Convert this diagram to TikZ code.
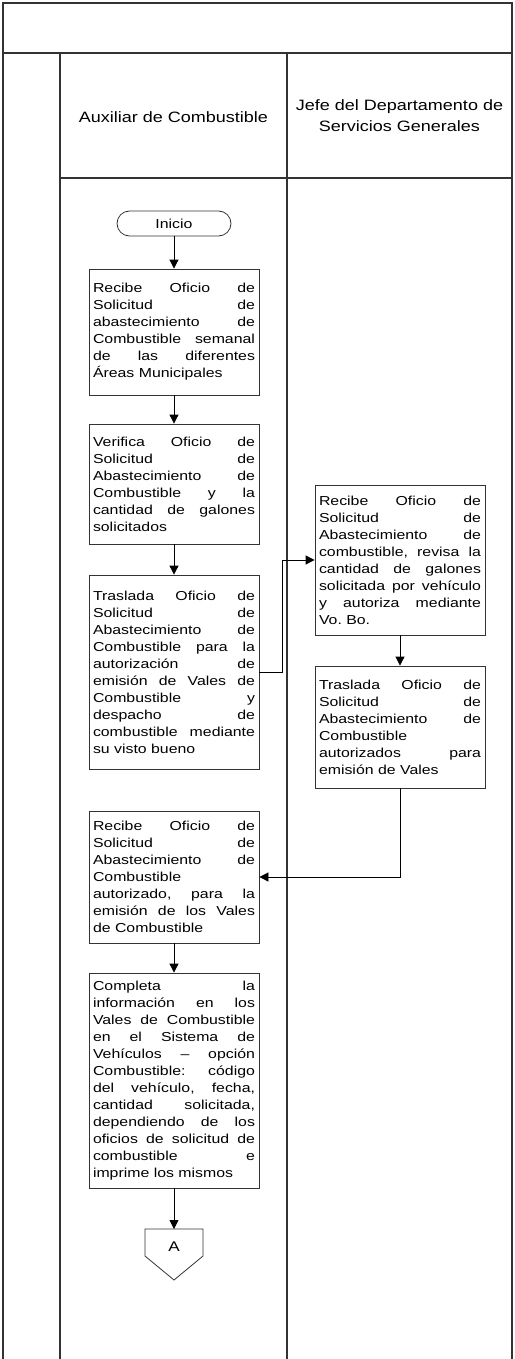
\documentclass[tikz,border=0pt]{standalone}
\usepackage{fontspec}
\setmainfont[FakeStretch=1.22]{Liberation Sans}
\newfontfamily\headfont[FakeStretch=1.2]{Liberation Sans}
\usetikzlibrary{arrows.meta}
\tolerance=10000
\hbadness=10000
\hyphenpenalty=10000
\frenchspacing
\begin{document}
\begin{tikzpicture}[x=1pt,y=-1pt,
  >={Triangle[length=9pt,width=9pt]},
  marco/.style={line width=1.6pt,draw=black!80},
  caja/.style={draw=black!80,line width=0.8pt,text width=162pt,inner sep=4pt,
    align=justify,font=\fontsize{13}{17}\selectfont},
  flecha/.style={->,line width=0.8pt}]
\useasboundingbox (0,0) rectangle (514,1359);
% marco y carriles
\draw[marco] (3,1359) -- (3,3) -- (512,3) -- (512,1359);
\draw[marco] (3,53) -- (512,53);
\draw[marco] (60,53) -- (60,1359);
\draw[marco] (287,53) -- (287,1359);
\draw[marco] (60,178) -- (512,178);
\node[font=\headfont\fontsize{15}{21}\selectfont] (aux) at (173.5,117) {Auxiliar de Combustible};
\node[font=\headfont\fontsize{15}{21}\selectfont,align=center] (jefe) at (399.5,116)
  {Jefe del Departamento de\\Servicios Generales};
% pasos
\node[draw=black!80,line width=0.8pt,rounded corners=12.5pt,minimum width=114pt,
  minimum height=25pt,font=\fontsize{13}{15}\selectfont] (inicio) at (174,223.5) {Inicio};
\node[caja,minimum height=126pt] (rec1) at (174,332) {Recibe Oficio de\linebreak
  Solicitud de\linebreak abastecimiento de\linebreak Combustible semanal\linebreak
  de las diferentes\linebreak Áreas Municipales};
\node[caja,minimum height=120pt] (ver) at (174,484) {Verifica Oficio de\linebreak
  Solicitud de\linebreak Abastecimiento de\linebreak Combustible y la\linebreak
  cantidad de galones\linebreak solicitados};
\node[caja,minimum height=194pt] (tras) at (174,672) {Traslada Oficio de\linebreak
  Solicitud de\linebreak Abastecimiento de\linebreak Combustible para la\linebreak
  autorización de\linebreak emisión de Vales de\linebreak Combustible y\linebreak
  despacho de\linebreak combustible mediante\linebreak su visto bueno};
\node[caja,minimum height=150pt] (recJ) at (400,560) {Recibe Oficio de\linebreak
  Solicitud de\linebreak Abastecimiento de\linebreak combustible, revisa la\linebreak
  cantidad de galones\linebreak solicitada por vehículo\linebreak
  y autoriza mediante\linebreak Vo. Bo.};
\node[caja,minimum height=122pt] (trasJ) at (400,727) {Traslada Oficio de\linebreak
  Solicitud de\linebreak Abastecimiento de\linebreak Combustible\linebreak
  autorizados para\linebreak emisión de Vales};
\node[caja,minimum height=132pt] (rec2) at (174,877) {Recibe Oficio de\linebreak
  Solicitud de\linebreak Abastecimiento de\linebreak Combustible\linebreak
  autorizado, para la\linebreak emisión de los Vales\linebreak de Combustible};
\node[caja,minimum height=215pt] (comp) at (174,1080.5) {Completa la\linebreak
  información en los\linebreak Vales de Combustible\linebreak en el Sistema de\linebreak
  Vehículos – opción\linebreak Combustible: código\linebreak del vehículo, fecha,\linebreak
  cantidad solicitada,\linebreak dependiendo de los\linebreak oficios de solicitud de\linebreak
  combustible e\linebreak imprime los mismos};
% conector fuera de pagina
\coordinate (conTop) at (174,1229);
\draw[line width=0.8pt,draw=black!80] (145,1229) -- (203,1229) -- (203,1256)
  -- (174,1280) -- (145,1256) -- cycle;
\node[font=\fontsize{14}{15}\selectfont] (conA) at (174,1247) {A};
% flechas
\draw[flecha] (inicio) -- (rec1);
\draw[flecha] (rec1) -- (ver);
\draw[flecha] (ver) -- (tras);
\draw[flecha] (tras.east) -- ++(23,0) |- (recJ.west);
\draw[flecha] (recJ) -- (trasJ);
\draw[flecha] (trasJ.south) |- (rec2.east);
\draw[flecha] (rec2) -- (comp);
\draw[flecha] (comp) -- (conTop);
\end{tikzpicture}
\end{document}
